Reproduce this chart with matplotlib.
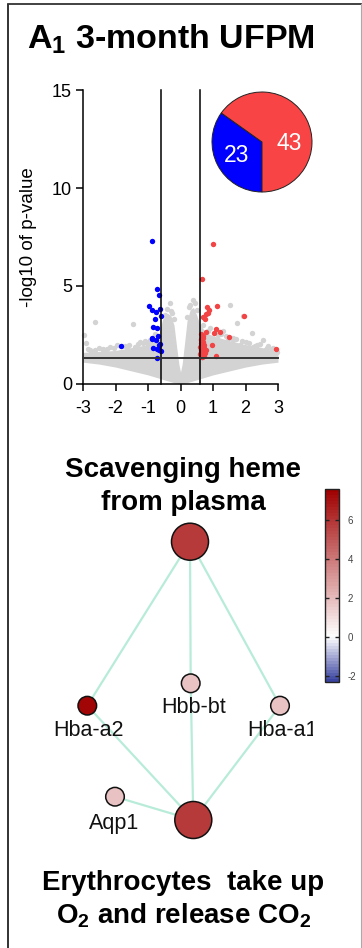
import matplotlib
matplotlib.use("Agg")
import matplotlib.pyplot as plt
import numpy as np
from matplotlib.colors import LinearSegmentedColormap, Normalize
from matplotlib.patches import Circle
from matplotlib.transforms import Bbox, TransformedBbox
import matplotlib as mpl

plt.rcParams['font.family'] = ['Liberation Sans', 'DejaVu Sans']
plt.rcParams['mathtext.fontset'] = 'custom'
plt.rcParams['mathtext.rm'] = 'Liberation Sans'
plt.rcParams['mathtext.bf'] = 'Liberation Sans:bold'
plt.rcParams['mathtext.it'] = 'Liberation Sans:italic'

# ---------------- data ----------------
# dense grey cloud envelope (log2 fold change, lower / upper -log10 p)
cloud_fc = [-3.0, -2.5, -2.0, -1.5, -1.0, -0.7, -0.55, -0.4, -0.3, -0.2, -0.12, -0.05, 0.0,
            0.05, 0.12, 0.2, 0.3, 0.4, 0.5, 0.6, 0.8, 1.0, 1.5, 2.0, 2.5, 3.0]
cloud_lo = [1.1, 1.0, 0.85, 0.65, 0.45, 0.3, 0.22, 0.15, 0.1, 0.05, 0.02, 0.0, 0.0,
            0.0, 0.02, 0.05, 0.1, 0.15, 0.2, 0.25, 0.35, 0.45, 0.65, 0.85, 1.0, 1.1]
cloud_hi = [1.6, 1.65, 1.7, 1.85, 2.0, 2.3, 3.3, 3.6, 3.5, 3.0, 1.9, 1.0, 0.6,
            1.0, 2.0, 3.2, 3.8, 3.9, 3.5, 3.0, 2.6, 2.45, 2.2, 2.0, 1.85, 1.6]

# scattered non-significant genes
grey_fc = [-2.97, -2.91, -2.63, -2.17, -2.38, -2.63, -1.96, -1.45, -1.25, -1.04, -1.66, -0.78,
           -0.32, -0.48, 0.29, 0.45, 1.52, 1.93, 1.73, 1.32, 1.62, 2.19, 2.24, 2.55, 2.65,
           2.98, 1.83, 1.22, -2.8, -2.5, -2.25, -1.8, -1.6, -1.3, -1.1, -0.9, -1.4, -2.05,
           0.7, 0.9, 1.15, 1.4, 1.7, 1.9, 2.1, 2.35, 2.7, 2.85, 2.45, 1.05, -0.3, 0.38,
           -0.42, 0.52, -2.7, 2.6, -1.9, 1.45, -2.85, -2.4, -1.7, -1.15, -0.95, 0.85, 1.25,
           1.6, 2.0, 2.3, 2.8, -0.2, 0.2, -0.25, 0.25]
grey_p = [2.50, 2.07, 3.15, 1.90, 1.76, 1.73, 1.98, 3.05, 2.15, 2.07, 1.81, 2.53,
          4.12, 3.52, 4.04, 4.12, 4.00, 3.44, 3.10, 2.67, 2.24, 2.58, 1.90, 2.24, 1.81,
          1.64, 1.98, 2.07, 1.7, 1.85, 1.75, 1.95, 2.0, 2.05, 2.2, 2.1, 1.9, 1.8,
          3.0, 2.85, 2.5, 2.45, 2.3, 2.2, 2.1, 2.0, 1.95, 1.8, 2.05, 2.6, 3.7, 4.3,
          3.8, 3.75, 1.6, 1.7, 1.55, 2.3, 1.75, 1.7, 1.95, 2.1, 2.25, 2.7, 2.55,
          2.35, 2.15, 1.95, 1.75, 3.3, 3.4, 3.6, 3.9]

# down-regulated (blue)
down_fc = [-0.88, -0.73, -0.66, -0.98, -0.88, -0.75, -0.64, -0.79, -0.60, -0.86, -0.73,
           -0.68, -0.88, -0.89, -0.75, -0.65, -0.86, -0.73, -0.66, -0.59, -0.72, -1.84, -0.63]
down_p = [7.27, 4.84, 4.56, 3.98, 3.75, 3.69, 3.83, 3.33, 3.44, 2.92, 2.87,
          2.46, 2.29, 2.36, 2.24, 1.98, 1.83, 1.76, 1.73, 1.69, 1.31, 1.93, 2.05]

# up-regulated (red)
up_fc = [0.99, 0.65, 0.81, 0.89, 0.86, 0.78, 0.70, 0.75, 1.11, 1.96, 1.09, 1.22, 1.03,
         0.78, 0.63, 1.50, 0.96, 0.78, 1.09, 2.93, 0.64, 0.66, 0.62, 0.68, 0.65, 0.61,
         0.70, 0.67, 0.62, 0.69, 0.64, 0.61, 0.70, 0.72, 0.63, 0.66, 0.74, 0.68, 0.62,
         0.71, 0.65, 0.73, 0.67]
up_p = [7.13, 5.35, 3.92, 3.78, 3.61, 3.57, 3.40, 3.30, 3.97, 3.46, 2.79, 2.65, 2.58,
        2.62, 2.55, 2.41, 1.97, 1.73, 1.42, 1.78, 2.30, 2.20, 2.10, 2.35, 2.00, 1.90,
        2.15, 1.80, 1.70, 1.95, 1.60, 1.50, 1.65, 1.40, 1.45, 1.35, 1.55, 2.45, 2.25,
        1.85, 1.75, 1.98, 1.38]

fc_cut = 0.585
p_cut = 1.30

pie_counts = [23, 43]
pie_labels = ["23", "43"]

# network
node_names = ["Scavenging", "Erythrocytes", "Hba-a2", "Hbb-bt", "Hba-a1", "Aqp1"]
node_values = [5.8, 5.8, 7.4, 1.75, 1.75, 1.75]
node_is_term = [True, True, False, False, False, False]
edges = [("Scavenging", "Hba-a2"), ("Scavenging", "Hbb-bt"), ("Scavenging", "Hba-a1"),
         ("Erythrocytes", "Hba-a2"), ("Erythrocytes", "Hbb-bt"), ("Erythrocytes", "Hba-a1"),
         ("Erythrocytes", "Aqp1")]
cbar_min, cbar_max = -2.3, 7.6
cbar_ticks = [-2, 0, 2, 4, 6]

# ---------------- layout ----------------
W, H = 362, 948
fig = plt.figure(figsize=(W / 100, H / 100), dpi=100)

def rect(l, t, r, b):
    return [l / W, 1 - b / H, (r - l) / W, (b - t) / H]

# full-figure pixel axes for frame + network
axn = fig.add_axes([0, 0, 1, 1])
axn.set_xlim(0, W)
axn.set_ylim(H, 0)
axn.axis('off')

# frame
axn.plot([7.5, 7.5], [4, H + 5], color='#222222', lw=1.3, solid_capstyle='butt', clip_on=False)
axn.plot([7.5, 361], [4, 4], color='#333333', lw=1.3, clip_on=False)
axn.plot([361, 361], [4, H + 5], color='#aaaaaa', lw=0.8, clip_on=False)

# title
fig.text(27 / W, 1 - 49 / H, r"A$_\mathbf{1}$ 3-month UFPM", fontsize=24.5,
         fontweight='bold', ha='left', va='baseline')

# ---------------- volcano ----------------
ax = fig.add_axes(rect(83, 90.3, 278, 383.7))
ax.fill_between(cloud_fc, cloud_lo, cloud_hi, color='#d3d3d3', lw=0, zorder=1)
ax.scatter(grey_fc, grey_p, s=15, color='#d3d3d3', lw=0, zorder=1, clip_on=False)
ax.scatter(down_fc, down_p, s=15, color='#0000ff', lw=0, zorder=3, clip_on=False)
ax.scatter(up_fc, up_p, s=15, color='#f24444', lw=0, zorder=3, clip_on=False)
ax.plot([-fc_cut, -fc_cut], [0, 15], color='black', lw=1.1, zorder=4, clip_on=False)
ax.plot([fc_cut, fc_cut], [0, 15], color='black', lw=1.1, zorder=4, clip_on=False)
ax.plot([-3, 3], [p_cut, p_cut], color='#333333', lw=1.4, zorder=4, clip_on=False)
ax.set_xlim(-3, 3)
ax.set_ylim(0, 15)
ax.spines['top'].set_visible(False)
ax.spines['right'].set_visible(False)
for s in ['left', 'bottom']:
    ax.spines[s].set_linewidth(1.1)
ax.set_xticks([-3, -2, -1, 0, 1, 2, 3])
ax.set_xticklabels(["-3", "-2", "-1", "0", "1", "2", "3"])
ax.set_yticks([0, 5, 10, 15])
ax.tick_params(axis='both', labelsize=13, width=1.1, length=5)
ax.tick_params(axis='x', pad=7)
ax.tick_params(axis='y', pad=3)
ax.set_ylabel("-log10 of p-value", fontsize=13.5)
ax.yaxis.set_label_coords(-0.235, 0.5)
ax.patch.set_alpha(0)

# ---------------- pie ----------------
axp = fig.add_axes(rect(262 - 51, 142 - 51, 262 + 51, 142 + 51))
axp.pie(pie_counts, colors=['#0000ff', '#f84444'], startangle=270, counterclock=False,
        wedgeprops=dict(edgecolor='#222222', linewidth=0.7))
axp.set_xlim(-1.02, 1.02)
axp.set_ylim(-1.02, 1.02)
axp.set_aspect('equal')
pie_label_pos = [(-0.5, -0.26), (0.54, -0.02)]
for lab, (px, py) in zip(pie_labels, pie_label_pos):
    axp.text(px, py, lab, color='white', fontsize=16.5, ha='center', va='center')

# ---------------- network ----------------
cmap = LinearSegmentedColormap.from_list(
    'bwr_custom', [(0.0, '#3a44a0'), ((0 - cbar_min) / (cbar_max - cbar_min), '#ffffff'),
                   (1.0, '#a00000')], N=64)
norm = Normalize(vmin=cbar_min, vmax=cbar_max)

pos = {"Scavenging": (190, 541.7), "Erythrocytes": (193.3, 820),
       "Hba-a2": (87.3, 705.7), "Hbb-bt": (190.7, 683.3),
       "Hba-a1": (280, 705.7), "Aqp1": (115, 796.7)}
label_pos = {"Hba-a2": (88.3, 730.7), "Hbb-bt": (193.3, 707.3),
             "Hba-a1": (282.3, 730.7), "Aqp1": (114, 823.3)}

for a, b in edges:
    (x1, y1), (x2, y2) = pos[a], pos[b]
    axn.plot([x1, x2], [y1, y2], color='#b8ecd9', lw=1.6, zorder=1)

for name, v, term in zip(node_names, node_values, node_is_term):
    r = 18.5 if term else 9.3
    axn.add_patch(Circle(pos[name], r, facecolor=cmap(norm(v)), edgecolor='#111111',
                         lw=1.1, zorder=2))
    if not term:
        t = axn.text(*label_pos[name], name, fontsize=15.5, ha='center', va='center',
                     color='#111111', zorder=3)
        if name == "Hba-a1":
            t.set_clip_box(TransformedBbox(Bbox([[0, 0], [313, H]]), axn.transData))
            t.set_clip_on(True)

fig.text(183 / W, 1 - 476.7 / H, "Scavenging heme", fontsize=20, fontweight='bold',
         ha='center', va='baseline')
fig.text(183 / W, 1 - 510 / H, "from plasma", fontsize=20, fontweight='bold',
         ha='center', va='baseline')
fig.text(183 / W, 1 - 890 / H, "Erythrocytes  take up", fontsize=20, fontweight='bold',
         ha='center', va='baseline')
fig.text(184 / W, 1 - 923.3 / H, r"O$_\mathbf{2}$ and release CO$_\mathbf{2}$", fontsize=20,
         fontweight='bold', ha='center', va='baseline')

# colorbar
axc = fig.add_axes(rect(325, 489.3, 339, 681.7))
cb = mpl.colorbar.ColorbarBase(axc, cmap=cmap, norm=norm, orientation='vertical')
cb.set_ticks(cbar_ticks)
cb.set_ticklabels([str(t) for t in cbar_ticks])
cb.outline.set_linewidth(1.0)
cb.outline.set_edgecolor('#222222')
axc.tick_params(direction='in', length=3, width=1.0, left=True, right=True,
                labelsize=7, labelcolor='#444444', pad=6, color='#222222')

fig.savefig("out.png", dpi=100)
